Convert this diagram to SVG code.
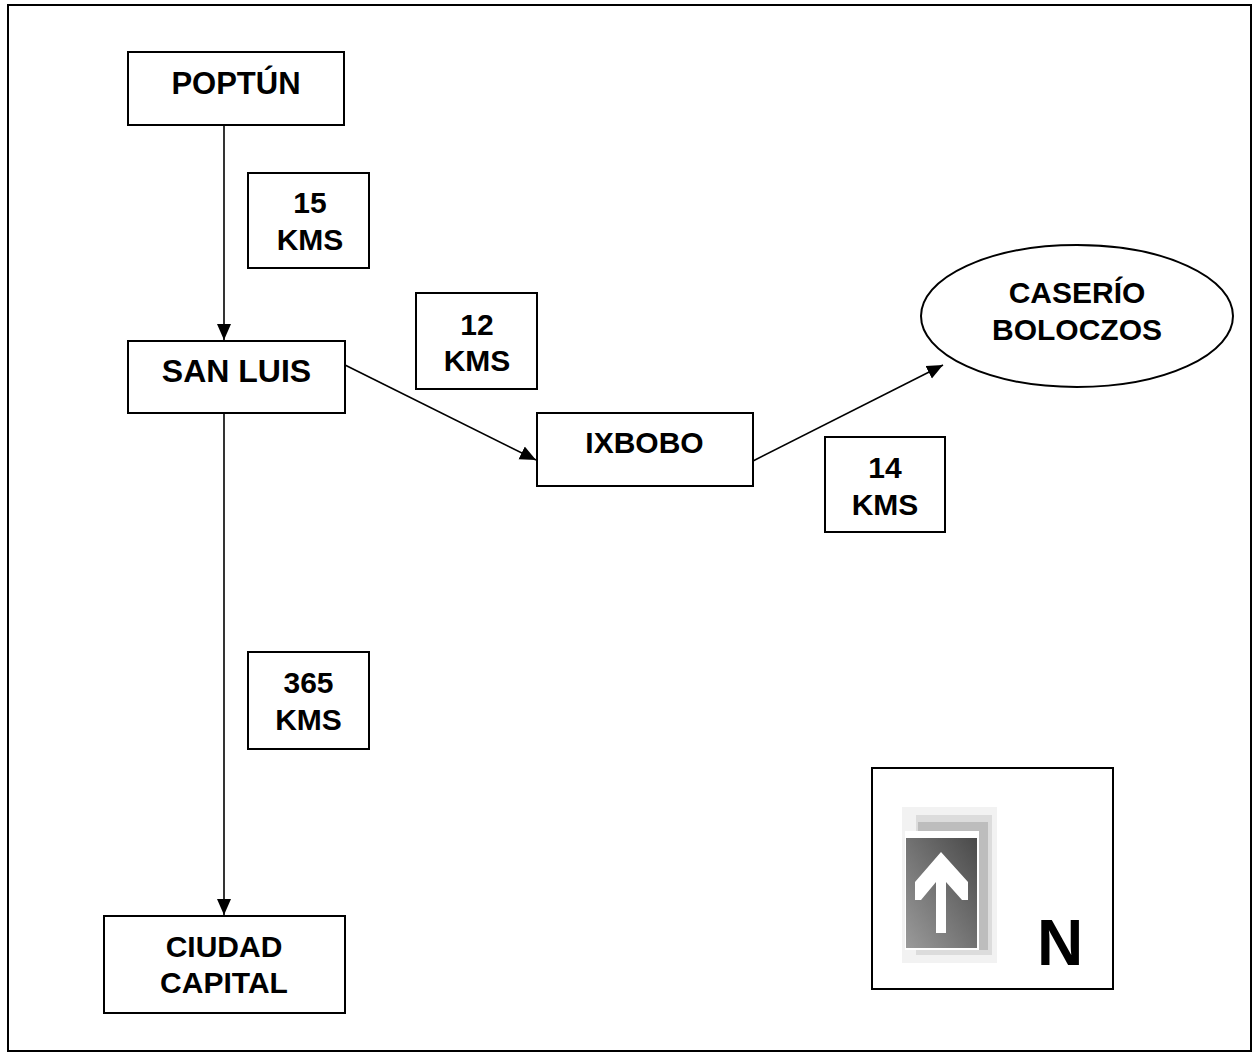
<svg xmlns="http://www.w3.org/2000/svg" width="1257" height="1057" viewBox="0 0 1257 1057">
<style>
.box{fill:#fff;stroke:#000;stroke-width:2}
.t{font-family:"Liberation Sans",Arial,sans-serif;font-weight:bold;font-size:30px;fill:#000;text-anchor:middle}
.c{fill:none;stroke:#000;stroke-width:1.6}
</style>
<defs>
<marker id="ah" markerUnits="userSpaceOnUse" markerWidth="16" markerHeight="16" viewBox="0 0 16 16" refX="16" refY="8" orient="auto">
<path d="M0,1 L16,8 L0,15 Z" fill="#000"/>
</marker>
<linearGradient id="g" x1="1" y1="0" x2="0" y2="1">
<stop offset="0" stop-color="#4a4a4a"/>
<stop offset="1" stop-color="#9a9a9a"/>
</linearGradient>
</defs>
<rect width="1257" height="1057" fill="#fff"/>
<rect x="8" y="5" width="1243" height="1046" fill="none" stroke="#000" stroke-width="2"/>
<g id="connectors">
<line class="c" x1="224" y1="125" x2="224" y2="340" marker-end="url(#ah)"/>
<line class="c" x1="224" y1="413" x2="224" y2="915" marker-end="url(#ah)"/>
<line class="c" x1="345" y1="365" x2="536" y2="460" marker-end="url(#ah)"/>
<line class="c" x1="753" y1="461" x2="943" y2="365" marker-end="url(#ah)"/>
</g>
<g id="poptun">
<rect class="box" x="128" y="52" width="216" height="73"/>
<text class="t" x="236" y="94" style="font-size:31px">POPTÚN</text>
</g>
<g id="sanluis">
<rect class="box" x="128" y="341" width="217" height="72"/>
<text class="t" x="236.5" y="382" style="font-size:32px">SAN LUIS</text>
</g>
<g id="ixbobo">
<rect class="box" x="537" y="413" width="216" height="73"/>
<text class="t" x="644.5" y="453">IXBOBO</text>
</g>
<g id="caserio">
<ellipse class="box" cx="1077" cy="316" rx="156" ry="71"/>
<text class="t" x="1077" y="303">CASERÍO</text>
<text class="t" x="1077" y="340">BOLOCZOS</text>
</g>
<g id="ciudad">
<rect class="box" x="104" y="916" width="241" height="97"/>
<text class="t" x="224" y="957">CIUDAD</text>
<text class="t" x="224" y="993">CAPITAL</text>
</g>
<g id="lbl15">
<rect class="box" x="248" y="173" width="121" height="95"/>
<text class="t" x="310" y="213">15</text>
<text class="t" x="310" y="250">KMS</text>
</g>
<g id="lbl12">
<rect class="box" x="416" y="293" width="121" height="96"/>
<text class="t" x="477" y="335">12</text>
<text class="t" x="477" y="371">KMS</text>
</g>
<g id="lbl14">
<rect class="box" x="825" y="437" width="120" height="95"/>
<text class="t" x="885" y="478">14</text>
<text class="t" x="885" y="515">KMS</text>
</g>
<g id="lbl365">
<rect class="box" x="248" y="652" width="121" height="97"/>
<text class="t" x="308.5" y="693">365</text>
<text class="t" x="308.5" y="730">KMS</text>
</g>
<g id="north">
<rect class="box" x="872" y="768" width="241" height="221"/>
<rect x="902" y="807" width="95" height="156" fill="#f2f2f2"/>
<rect x="916" y="815" width="76" height="140" fill="#dcdcdc"/>
<rect x="918" y="822" width="70" height="128" fill="#bdbdbd"/>
<rect x="905" y="831" width="74" height="119" fill="#fff"/>
<rect x="906" y="838" width="71" height="110" fill="url(#g)"/>
<polygon points="941,852 968,882 968,900 962,900 946,882 946,933 936,933 936,882 921,900 915,900 915,882" fill="#fff"/>
<text class="t" x="1060" y="965" style="font-size:64px">N</text>
</g>
</svg>
